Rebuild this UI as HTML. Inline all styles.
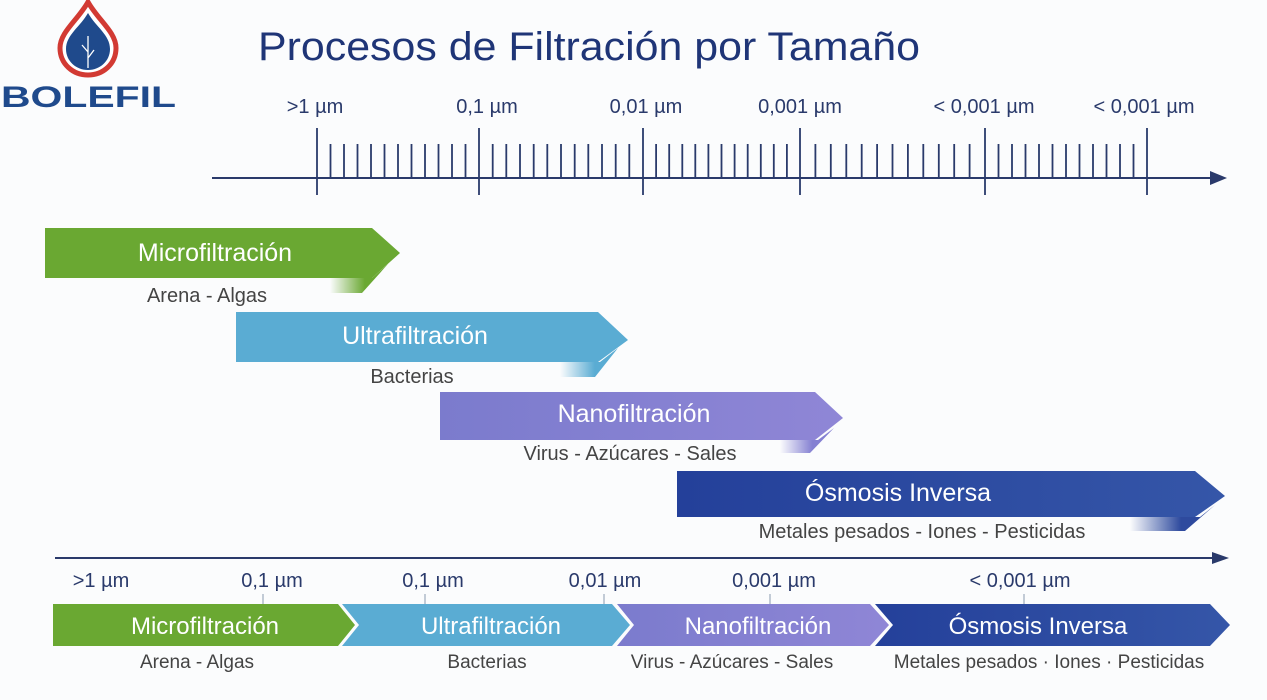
<!DOCTYPE html>
<html><head><meta charset="utf-8"><style>
html,body{margin:0;padding:0;background:#fbfcfd;}
svg{display:block;font-family:"Liberation Sans",sans-serif;}
</style></head><body>
<svg width="1267" height="700" viewBox="0 0 1267 700" xmlns="http://www.w3.org/2000/svg">
<defs>
<linearGradient id="tg" x1="0" x2="1" y1="0" y2="0"><stop offset="0" stop-color="#6aa832" stop-opacity="0"/><stop offset="0.6" stop-color="#6aa832"/></linearGradient>
<linearGradient id="tb" x1="0" x2="1"><stop offset="0" stop-color="#5aacd3" stop-opacity="0"/><stop offset="0.6" stop-color="#5aacd3"/></linearGradient>
<linearGradient id="tp" x1="0" x2="1"><stop offset="0" stop-color="#8480d2" stop-opacity="0"/><stop offset="0.6" stop-color="#8480d2"/></linearGradient>
<linearGradient id="td" x1="0" x2="1"><stop offset="0" stop-color="#2e4a9e" stop-opacity="0"/><stop offset="0.6" stop-color="#2e4a9e"/></linearGradient>
<linearGradient id="gp" x1="0" x2="1"><stop offset="0" stop-color="#7b7bcd"/><stop offset="1" stop-color="#8f86d6"/></linearGradient>
<linearGradient id="gd" x1="0" x2="1"><stop offset="0" stop-color="#24409a"/><stop offset="1" stop-color="#3556a8"/></linearGradient>
</defs>
<rect width="1267" height="700" fill="#fbfcfd"/>
<!-- logo -->
<path d="M88 2 C78 20 60 32 60 48 C60 64 73 75 88 75 C103 75 116 64 116 48 C116 32 98 20 88 2Z" fill="#fff" stroke="#d23a33" stroke-width="5"/>
<path d="M88 13 C80 27 66 35 66 49 C66 61 76 70 88 70 C100 70 110 61 110 49 C110 35 96 27 88 13Z" fill="#1f4a8c"/>
<path d="M88 36 L88 68 M88 52 L82 45 M88 58 L94 50" stroke="#fff" stroke-width="1.3" fill="none"/>
<text x="1" y="107" font-size="30" font-weight="bold" fill="#1f4a8c" textLength="175" lengthAdjust="spacingAndGlyphs">BOLEFIL</text>
<text x="258" y="60" font-size="40" fill="#1f3577" textLength="662" lengthAdjust="spacingAndGlyphs">Procesos de Filtración por Tamaño</text>
<!-- top axis -->
<g fill="#2a3a6b" font-size="20" text-anchor="middle">
<text x="315" y="113">&gt;1 µm</text><text x="487" y="113">0,1 µm</text><text x="646" y="113">0,01 µm</text>
<text x="800" y="113">0,001 µm</text><text x="984" y="113">&lt; 0,001 µm</text><text x="1144" y="113">&lt; 0,001 µm</text>
</g>
<line x1="212" y1="178" x2="1212" y2="178" stroke="#2a3a6b" stroke-width="2"/>
<polygon points="1227,178 1210,171 1210,185" fill="#2a3a6b"/>
<g id="ticks" stroke="#2a3a6b" stroke-width="1.8"></g>
<!-- top bars -->
<polygon points="45,228 372,228 400,253 372,278 45,278" fill="#6aa832"/>
<polygon points="330,278 372,278 388,264 362,293 330,293" fill="url(#tg)"/>
<text x="215" y="261" text-anchor="middle" font-size="25" fill="#fff">Microfiltración</text>
<text x="207" y="302" text-anchor="middle" font-size="20" fill="#444">Arena - Algas</text>
<polygon points="236,312 598,312 628,340 598,362 236,362" fill="#5aacd3"/>
<polygon points="560,362 600,362 618,348 595,377 560,377" fill="url(#tb)"/>
<text x="415" y="344" text-anchor="middle" font-size="25" fill="#fff">Ultrafiltración</text>
<text x="412" y="383" text-anchor="middle" font-size="20" fill="#444">Bacterias</text>
<polygon points="440,392 815,392 843,418 815,440 440,440" fill="url(#gp)"/>
<polygon points="780,440 818,440 834,428 810,453 780,453" fill="url(#tp)"/>
<text x="634" y="422" text-anchor="middle" font-size="25" fill="#fff">Nanofiltración</text>
<text x="630" y="460" text-anchor="middle" font-size="20" fill="#444">Virus - Azúcares - Sales</text>
<polygon points="677,471 1195,471 1225,496 1195,517 677,517" fill="url(#gd)"/>
<polygon points="1130,517 1200,517 1215,505 1185,531 1130,531" fill="url(#td)"/>
<text x="898" y="501" text-anchor="middle" font-size="25" fill="#fff">Ósmosis Inversa</text>
<text x="922" y="538" text-anchor="middle" font-size="20" fill="#444">Metales pesados - Iones - Pesticidas</text>
<!-- bottom axis -->
<line x1="55" y1="558" x2="1214" y2="558" stroke="#2a3a6b" stroke-width="2"/>
<polygon points="1229,558 1212,552 1212,564" fill="#2a3a6b"/>
<g fill="#2a3a6b" font-size="20" text-anchor="middle">
<text x="101" y="587">&gt;1 µm</text><text x="272" y="587">0,1 µm</text><text x="433" y="587">0,1 µm</text>
<text x="605" y="587">0,01 µm</text><text x="774" y="587">0,001 µm</text><text x="1020" y="587">&lt; 0,001 µm</text>
</g>
<g stroke="#8a9ab0" stroke-width="1"><line x1="263" y1="594" x2="263" y2="604"/><line x1="425" y1="594" x2="425" y2="604"/><line x1="604" y1="594" x2="604" y2="604"/><line x1="770" y1="594" x2="770" y2="604"/><line x1="1024" y1="594" x2="1024" y2="604"/></g>
<polygon points="53,604 338,604 355,625 338,646 53,646" fill="#6aa832"/>
<polygon points="342,604 612,604 630,625 612,646 342,646 359,625" fill="#5aacd3"/>
<polygon points="617,604 870,604 889,625 870,646 617,646 634,625" fill="url(#gp)"/>
<polygon points="875,604 1210,604 1230,625 1210,646 875,646 893,625" fill="url(#gd)"/>
<g fill="#fff" font-size="24" text-anchor="middle">
<text x="205" y="634">Microfiltración</text><text x="491" y="634">Ultrafiltración</text>
<text x="758" y="634">Nanofiltración</text><text x="1038" y="634">Ósmosis Inversa</text>
</g>
<g fill="#444" font-size="19" text-anchor="middle">
<text x="197" y="668">Arena - Algas</text><text x="487" y="668">Bacterias</text>
<text x="732" y="668">Virus - Azúcares - Sales</text><text x="1049" y="668">Metales pesados · Iones · Pesticidas</text>
</g>
</svg>
<script>
var g=document.getElementById('ticks'),maj=[317,479,643,800,985,1147],s='';
for(var i=0;i<maj.length;i++){s+='<line x1="'+maj[i]+'" y1="128" x2="'+maj[i]+'" y2="195"/>';
if(i<maj.length-1){var a=maj[i],b=maj[i+1],n=11;for(var k=1;k<=n;k++){var x=(a+(b-a)*k/(n+1)).toFixed(1);s+='<line x1="'+x+'" y1="144" x2="'+x+'" y2="178"/>';}}}
g.innerHTML=s;
</script>
</body></html>
